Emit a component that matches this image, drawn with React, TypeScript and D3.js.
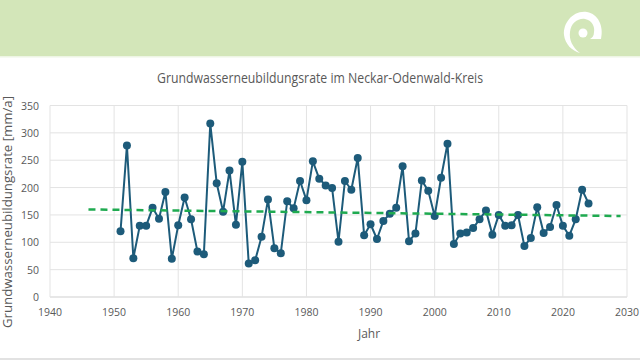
import React from "react";
import * as d3 from "d3";

const years = [
  1951, 1952, 1953, 1954, 1955, 1956, 1957, 1958, 1959, 1960, 1961, 1962, 1963, 1964, 1965, 1966, 1967, 1968, 1969, 1970,
  1971, 1972, 1973, 1974, 1975, 1976, 1977, 1978, 1979, 1980, 1981, 1982, 1983, 1984, 1985, 1986, 1987, 1988, 1989, 1990,
  1991, 1992, 1993, 1994, 1995, 1996, 1997, 1998, 1999, 2000, 2001, 2002, 2003, 2004, 2005, 2006, 2007, 2008, 2009, 2010,
  2011, 2012, 2013, 2014, 2015, 2016, 2017, 2018, 2019, 2020, 2021, 2022, 2023, 2024,
];
const rates = [
  120, 277, 71, 130, 130, 163, 143, 192, 70, 131, 182, 142, 83, 78, 317, 208, 156, 231, 132, 247,
  61, 67, 110, 178, 89, 80, 175, 162, 212, 177, 248, 216, 204, 199, 101, 212, 196, 254, 113, 133,
  106, 139, 152, 163, 239, 102, 116, 213, 194, 148, 218, 280, 97, 116, 118, 126, 142, 158, 114, 150,
  130, 131, 150, 93, 108, 164, 117, 128, 168, 130, 112, 142, 196, 171,
];
const trendYears = [1946, 2029];
const trendValues = [160, 148];
const xTicks = [1940, 1950, 1960, 1970, 1980, 1990, 2000, 2010, 2020, 2030];
const yTicks = [0, 50, 100, 150, 200, 250, 300, 350];

const FONT = "'Open Sans', sans-serif";

export default function App() {
  const x = d3.scaleLinear().domain([1940, 2030]).range([50, 627]);
  const y = d3.scaleLinear().domain([0, 350]).range([297, 105.5]);
  const pts = years.map((yr, i) => [yr, rates[i]] as [number, number]);
  const line = d3.line<[number, number]>().x((d) => x(d[0])).y((d) => y(d[1]));
  const trend = trendYears.map((yr, i) => [yr, trendValues[i]] as [number, number]);

  return (
    <svg width={640} height={360} style={{ position: "fixed", left: 0, top: 0, background: "#fff" }}>
      <rect x={0} y={0} width={640} height={56} fill="#d3e6b9" />
      <rect x={0} y={56} width={640} height={1.5} fill="#eef5e4" />
      {/* logo */}
      <g transform="translate(583,31)">
        <path
          d="M 4 -19 C -10 -21 -20 -8 -19 4 C -18 13 -11 20 -3 22 C -11 16 -14 8 -13 1 C -12 -8 -5 -13 2 -12 C 9 -11 12 -4 11 1 C 11 5 9 7 7 8 L 18 8 C 21 -5 15 -17 4 -19 Z"
          fill="#ffffff"
        />
        <circle cx={0} cy={2} r={4.5} fill="#ffffff" />
      </g>
      <text
        x={320}
        y={83}
        textAnchor="middle"
        fontFamily={FONT}
        fontSize={14}
        fill="#595959"
        textLength={326}
        lengthAdjust="spacingAndGlyphs"
      >
        Grundwasserneubildungsrate im Neckar-Odenwald-Kreis
      </text>
      {/* grid */}
      {yTicks.map((t) => (
        <line key={"gy" + t} x1={x(1940)} x2={x(2030)} y1={y(t)} y2={y(t)} stroke={t === 0 ? "#cfcfcf" : "#e3e3e3"} strokeWidth={1} />
      ))}
      {xTicks.map((t) => (
        <line key={"gx" + t} x1={x(t)} x2={x(t)} y1={y(0)} y2={y(350)} stroke="#e3e3e3" strokeWidth={1} />
      ))}
      {yTicks.map((t) => (
        <text key={"ty" + t} x={39} y={y(t) + 4} textAnchor="end" fontFamily={FONT} fontSize={10.5} fill="#595959">
          {t}
        </text>
      ))}
      {xTicks.map((t) => (
        <text key={"tx" + t} x={x(t)} y={316} textAnchor="middle" fontFamily={FONT} fontSize={10.5} fill="#595959">
          {t}
        </text>
      ))}
      <text x={369} y={338} textAnchor="middle" fontFamily={FONT} fontSize={12} fill="#595959">
        Jahr
      </text>
      <text
        transform="translate(12,212) rotate(-90)"
        textAnchor="middle"
        fontFamily={FONT}
        fontSize={12}
        fill="#595959"
        textLength={232}
        lengthAdjust="spacingAndGlyphs"
      >
        Grundwasserneubildungsrate [mm/a]
      </text>
      {/* series */}
      <path d={line(pts) || ""} fill="none" stroke="#1d5b7a" strokeWidth={2} strokeLinejoin="round" />
      {pts.map((d) => (
        <circle key={"p" + d[0]} cx={x(d[0])} cy={y(d[1])} r={4} fill="#1d5b7a" />
      ))}
      <path d={line(trend) || ""} fill="none" stroke="#1faa50" strokeWidth={2.5} strokeDasharray="7,5" />
      <line x1={0} x2={640} y1={359} y2={359} stroke="#d9d9d9" strokeWidth={1.5} />
    </svg>
  );
}
